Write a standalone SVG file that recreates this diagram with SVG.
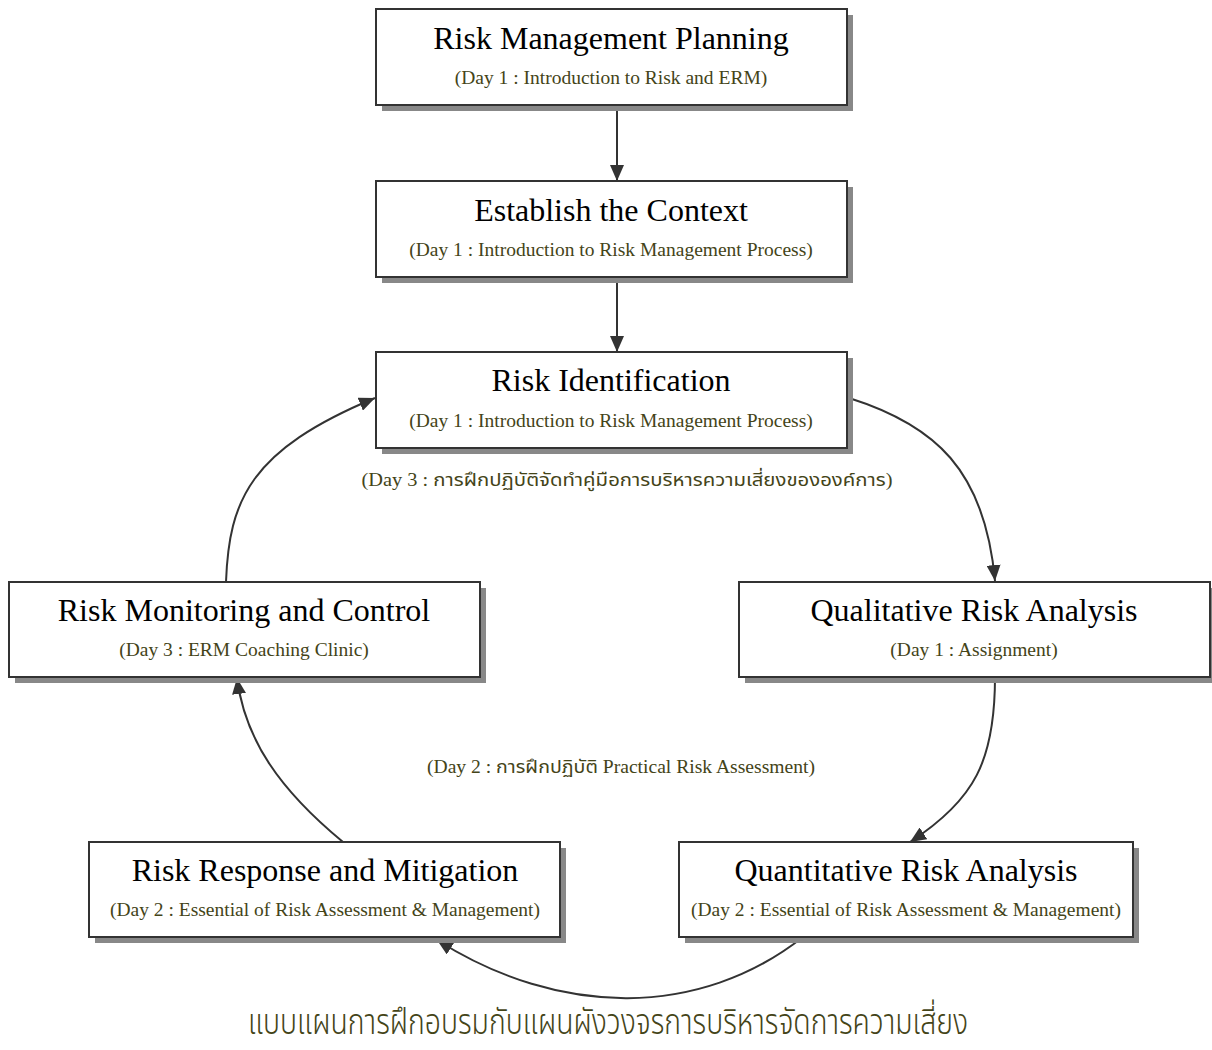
<svg xmlns="http://www.w3.org/2000/svg" width="1212" height="1050" viewBox="0 0 1212 1050">
<style>
.box{fill:#ffffff;stroke:#333333;stroke-width:2}
.shadow{fill:#888888}
.title{font-family:"Liberation Serif","Times New Roman",serif;font-size:32px;fill:#000000;text-anchor:middle}
.sub{font-family:"Liberation Serif","Times New Roman",serif;font-size:19.5px;fill:#444418;text-anchor:middle}
.lbl{font-family:"Liberation Serif","Noto Sans Thai","Noto Serif Thai","DejaVu Sans",serif;font-size:18px;fill:#444418;text-anchor:middle}
.cap{font-family:"Noto Sans Thai","Noto Serif Thai","DejaVu Sans","Liberation Serif",sans-serif;font-size:35px;font-weight:300;fill:#444418;text-anchor:middle}
.conn{fill:none;stroke:#333333;stroke-width:2}
</style>
<defs>
<marker id="arr" markerUnits="userSpaceOnUse" markerWidth="18" markerHeight="14" refX="16" refY="7" orient="auto">
<path d="M0,0 L16,7 L0,14 z" fill="#333333"/>
</marker>
</defs>
<rect width="1212" height="1050" fill="#ffffff"/>
<g id="connectors">
<path class="conn" d="M617,105 L617,181" marker-end="url(#arr)"/>
<path class="conn" d="M617,277 L617,352" marker-end="url(#arr)"/>
<path class="conn" d="M849,398 C935,425 985,470 995,581" marker-end="url(#arr)"/>
<path class="conn" d="M995,677 C995,760 975,800 910,842" marker-end="url(#arr)"/>
<path class="conn" d="M803,937 C700,1018 560,1018 437,940" marker-end="url(#arr)"/>
<path class="conn" d="M343,842 C280,790 245,740 237,678" marker-end="url(#arr)"/>
<path class="conn" d="M226,582 C229,500 250,450 375,398" marker-end="url(#arr)"/>
</g>
<g id="n1">
<rect class="shadow" x="382" y="15" width="471" height="96"/>
<rect class="box" x="376" y="9" width="471" height="96"/>
<text class="title" x="611" y="49">Risk Management Planning</text>
<text class="sub" x="611" y="84">(Day 1 : Introduction to Risk and ERM)</text>
</g>
<g id="n2">
<rect class="shadow" x="382" y="187" width="471" height="96"/>
<rect class="box" x="376" y="181" width="471" height="96"/>
<text class="title" x="611" y="221">Establish the Context</text>
<text class="sub" x="611" y="256">(Day 1 : Introduction to Risk Management Process)</text>
</g>
<g id="n3">
<rect class="shadow" x="382" y="358" width="471" height="96"/>
<rect class="box" x="376" y="352" width="471" height="96"/>
<text class="title" x="611" y="391">Risk Identification</text>
<text class="sub" x="611" y="427">(Day 1 : Introduction to Risk Management Process)</text>
</g>
<g id="n4">
<rect class="shadow" x="15" y="588" width="471" height="95"/>
<rect class="box" x="9" y="582" width="471" height="95"/>
<text class="title" x="244" y="621">Risk Monitoring and Control</text>
<text class="sub" x="244" y="656">(Day 3 : ERM Coaching Clinic)</text>
</g>
<g id="n5">
<rect class="shadow" x="745" y="588" width="471" height="95"/>
<rect class="box" x="739" y="582" width="471" height="95"/>
<text class="title" x="974" y="621">Qualitative Risk Analysis</text>
<text class="sub" x="974" y="656">(Day 1 : Assignment)</text>
</g>
<g id="n6">
<rect class="shadow" x="95" y="848" width="471" height="95"/>
<rect class="box" x="89" y="842" width="471" height="95"/>
<text class="title" x="325" y="881">Risk Response and Mitigation</text>
<text class="sub" x="325" y="916">(Day 2 : Essential of Risk Assessment &amp; Management)</text>
</g>
<g id="n7">
<rect class="shadow" x="685" y="848" width="454" height="95"/>
<rect class="box" x="679" y="842" width="454" height="95"/>
<text class="title" x="906" y="881">Quantitative Risk Analysis</text>
<text class="sub" x="906" y="916">(Day 2 : Essential of Risk Assessment &amp; Management)</text>
</g>
<g id="labels">
<text class="lbl" x="627" y="486" textLength="531" lengthAdjust="spacingAndGlyphs">(Day 3 : การฝึกปฏิบัติจัดทำคู่มือการบริหารความเสี่ยงขององค์การ)</text>
<text class="lbl" x="621" y="773" textLength="388" lengthAdjust="spacingAndGlyphs">(Day 2 : การฝึกปฏิบัติ Practical Risk Assessment)</text>
<text class="cap" x="608" y="1034" textLength="720" lengthAdjust="spacingAndGlyphs">แบบแผนการฝึกอบรมกับแผนผังวงจรการบริหารจัดการความเสี่ยง</text>
</g>
</svg>
